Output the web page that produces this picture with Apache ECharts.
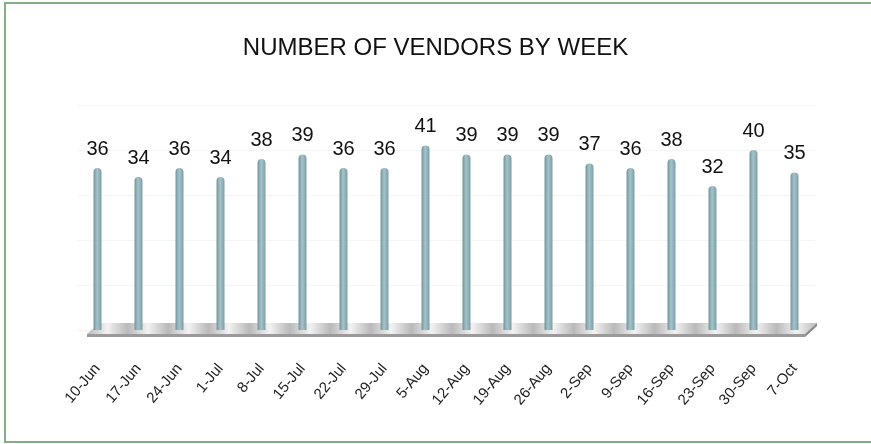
<html>
<head>
<meta charset="UTF-8">
<title>Number of vendors by week</title>
<script src="https://cdn.jsdelivr.net/npm/echarts@6/dist/echarts.min.js"></script>
<style>
    body{ margin:0; background:#fff; }
    #main{ width:871px; height:444px; }
</style>
</head>
<body>
<div id="main"></div>
<script>
// data
var weeks = ['10-Jun','17-Jun','24-Jun','1-Jul','8-Jul','15-Jul','22-Jul','29-Jul','5-Aug','12-Aug',
             '19-Aug','26-Aug','2-Sep','9-Sep','16-Sep','23-Sep','30-Sep','7-Oct'];
var vendors = [36,34,36,34,38,39,36,36,41,39,39,39,37,36,38,32,40,35];

var myChart = echarts.init(document.getElementById('main'));

// grey floor under the bars, from first to last category
function renderFloor(params, api) {
    var left = api.coord([0, 0]);
    var right = api.coord([weeks.length - 1, 0]);
    var half = api.size([1, 0])[0] / 2;
    var x0 = left[0] - half + 10, x1 = right[0] + half - 10;
    var y = left[1];
    return {
        type: 'group',
        children: [{
            type: 'polygon',
            shape: { points: [[x0, y + 4], [x1, y + 4], [x1 + 12, y - 7], [x0 + 12, y - 7]] },
            style: {
                fill: new echarts.graphic.LinearGradient(0, 0, 1, 0, (function () {
                    var stops = [], n = 36;
                    for (var i = 0; i <= n; i++) {
                        stops.push({ offset: i / n, color: i % 2 ? '#f2f2f2' : '#b9b9b9' });
                    }
                    return stops;
                })())
            }
        }, {
            type: 'rect',
            shape: { x: x0, y: y + 4, width: x1 - x0, height: 3 },
            style: { fill: '#9a9a9a' }
        }, {
            type: 'polygon',
            shape: { points: [[x1, y + 4], [x1 + 12, y - 7], [x1 + 12, y - 4], [x1, y + 7]] },
            style: { fill: '#8a8a8a' }
        }]
    };
}

var option = {
    animation: false,
    title: {
        text: 'NUMBER OF VENDORS BY WEEK',
        left: 'center',
        top: 31,
        textStyle: { fontFamily: 'Liberation Sans', fontSize: 24, fontWeight: 'normal', color: '#111' }
    },
    graphic: [{
        type: 'rect',
        shape: { x: 5, y: 3, width: 900, height: 439 },
        style: { fill: 'none', stroke: '#86ad86', lineWidth: 2 },
        silent: true
    }],
    grid: { left: 77, right: 56, top: 105, bottom: 114 },
    xAxis: {
        type: 'category',
        data: weeks,
        axisLine: { show: false },
        axisTick: { show: false },
        axisLabel: {
            rotate: 50,
            margin: 36,
            interval: 0,
            fontFamily: 'Liberation Sans',
            fontSize: 15,
            color: '#222'
        }
    },
    yAxis: {
        type: 'value',
        min: 0,
        max: 50,
        interval: 10,
        show: true,
        axisLine: { show: false },
        axisTick: { show: false },
        axisLabel: { show: false },
        splitLine: { lineStyle: { color: '#f5f5f5' } }
    },
    series: [{
        type: 'custom',
        renderItem: renderFloor,
        data: [0],
        z: 1,
        silent: true
    }, {
        type: 'bar',
        data: vendors,
        barWidth: 8,
        z: 3,
        itemStyle: {
            borderRadius: [4, 4, 0, 0],
            color: new echarts.graphic.LinearGradient(0, 0, 1, 0, [
                { offset: 0, color: '#6f959d' },
                { offset: 0.45, color: '#a6c3c9' },
                { offset: 1, color: '#7b9fa7' }
            ])
        },
        label: {
            show: true,
            position: 'top',
            distance: 9,
            fontFamily: 'Liberation Sans',
            fontSize: 20,
            color: '#111'
        }
    }]
};
myChart.setOption(option);
</script>
</body>
</html>
